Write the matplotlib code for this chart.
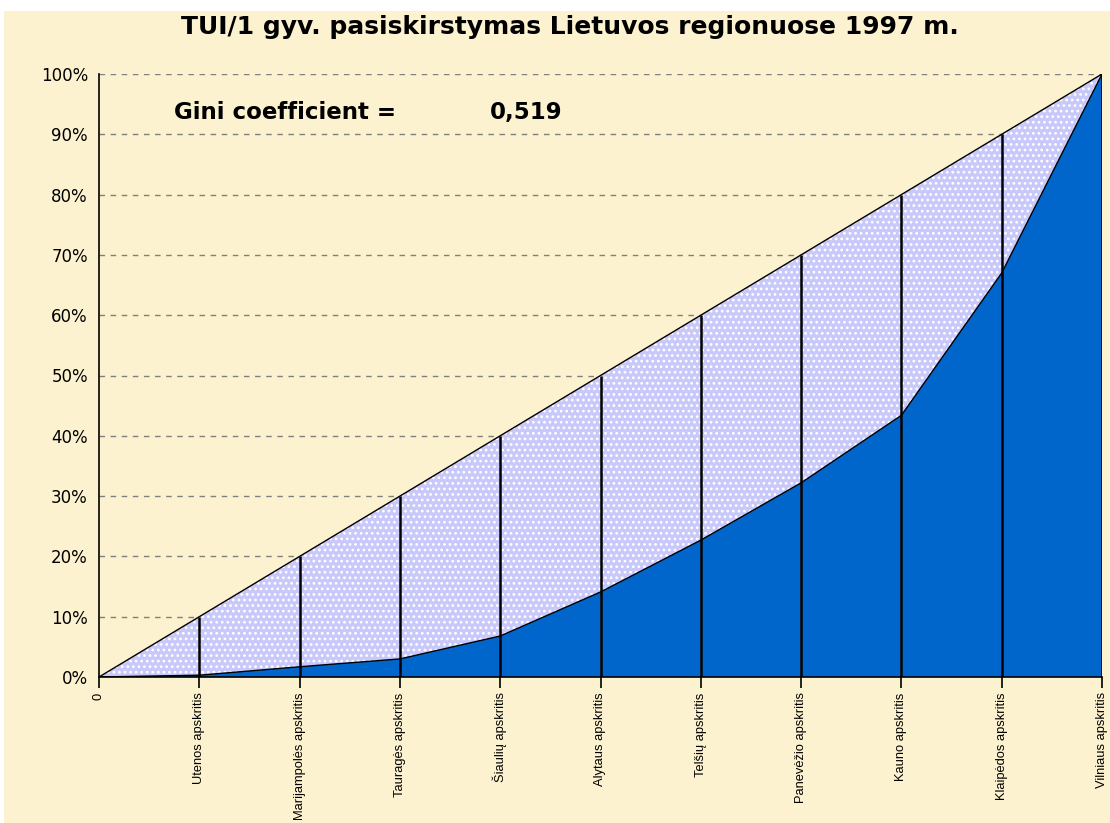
import matplotlib.pyplot as plt
from matplotlib.patches import Rectangle

categories = ['0', 'Utenos apskritis', 'Marijampolės apskritis', 'Tauragės apskritis',
              'Šiaulių apskritis', 'Alytaus apskritis', 'Telšių apskritis',
              'Panevėžio apskritis', 'Kauno apskritis', 'Klaipėdos apskritis',
              'Vilniaus apskritis']
equality = [0, 10, 20, 30, 40, 50, 60, 70, 80, 90, 100]
lorenz = [0, 0.3, 1.7, 3.0, 6.8, 14.1, 22.7, 32.2, 43.4, 67.0, 100]
yticks = [0, 10, 20, 30, 40, 50, 60, 70, 80, 90, 100]

bg = '#FDF2CF'
plt.rcParams['font.family'] = ['DejaVu Sans']
plt.rcParams['hatch.linewidth'] = 1.2

fig = plt.figure(figsize=(11.1, 8.23), dpi=100, facecolor='white')
fig.patches.append(Rectangle((4 / 1110, 0), 1, 1 - 11 / 823, transform=fig.transFigure,
                             facecolor=bg, edgecolor='none', zorder=-10))
ax = fig.add_axes([99 / 1110, 1 - 677 / 823, 1003 / 1110, 603 / 823])
ax.set_facecolor(bg)

x = list(range(len(categories)))

# area between equality line and Lorenz curve (dotted)
ax.fill_between(x, lorenz, equality, facecolor='#C8C8FA', edgecolor='white',
                hatch='...', linewidth=0, zorder=2)
# area under Lorenz curve
ax.fill_between(x, 0, lorenz, facecolor='#0066CC', linewidth=0, zorder=2)
ax.plot(x, equality, color='black', lw=1, zorder=3)
ax.plot(x, lorenz, color='black', lw=1, zorder=3)
ax.vlines(x, 0, equality, color='black', lw=1.8, zorder=3)

ax.set_xlim(0, len(categories) - 1)
ax.set_ylim(0, 100)
ax.set_yticks(yticks)
ax.set_yticklabels([f'{v}%' for v in yticks], fontsize=12)
ax.yaxis.grid(True, color='#808080', linestyle=(0, (4, 4)), lw=1)
ax.set_axisbelow(True)

ax.set_xticks(x)
ax.set_xticklabels(categories, rotation=90, fontsize=9.3,
                   family=['Liberation Sans Narrow', 'Liberation Sans'])
ax.tick_params(axis='x', length=8, width=1.2, direction='out', pad=3)
ax.tick_params(axis='y', length=0, pad=8)

for s in ['top', 'right']:
    ax.spines[s].set_visible(False)
ax.spines['left'].set_linewidth(1.2)
ax.spines['bottom'].set_linewidth(1.2)
ax.spines['left'].set_zorder(4)
ax.spines['bottom'].set_zorder(4)

ax.text(0.75, 93.6, 'Gini coefficient =', fontsize=16.5, fontweight='bold', va='center')
ax.text(3.9, 93.6, '0,519', fontsize=16.5, fontweight='bold', va='center')

fig.text(0.513, 1 - 27 / 823, 'TUI/1 gyv. pasiskirstymas Lietuvos regionuose 1997 m.',
         fontsize=18, fontweight='bold', ha='center', va='center')

fig.savefig('out.png', dpi=100, facecolor='white')
